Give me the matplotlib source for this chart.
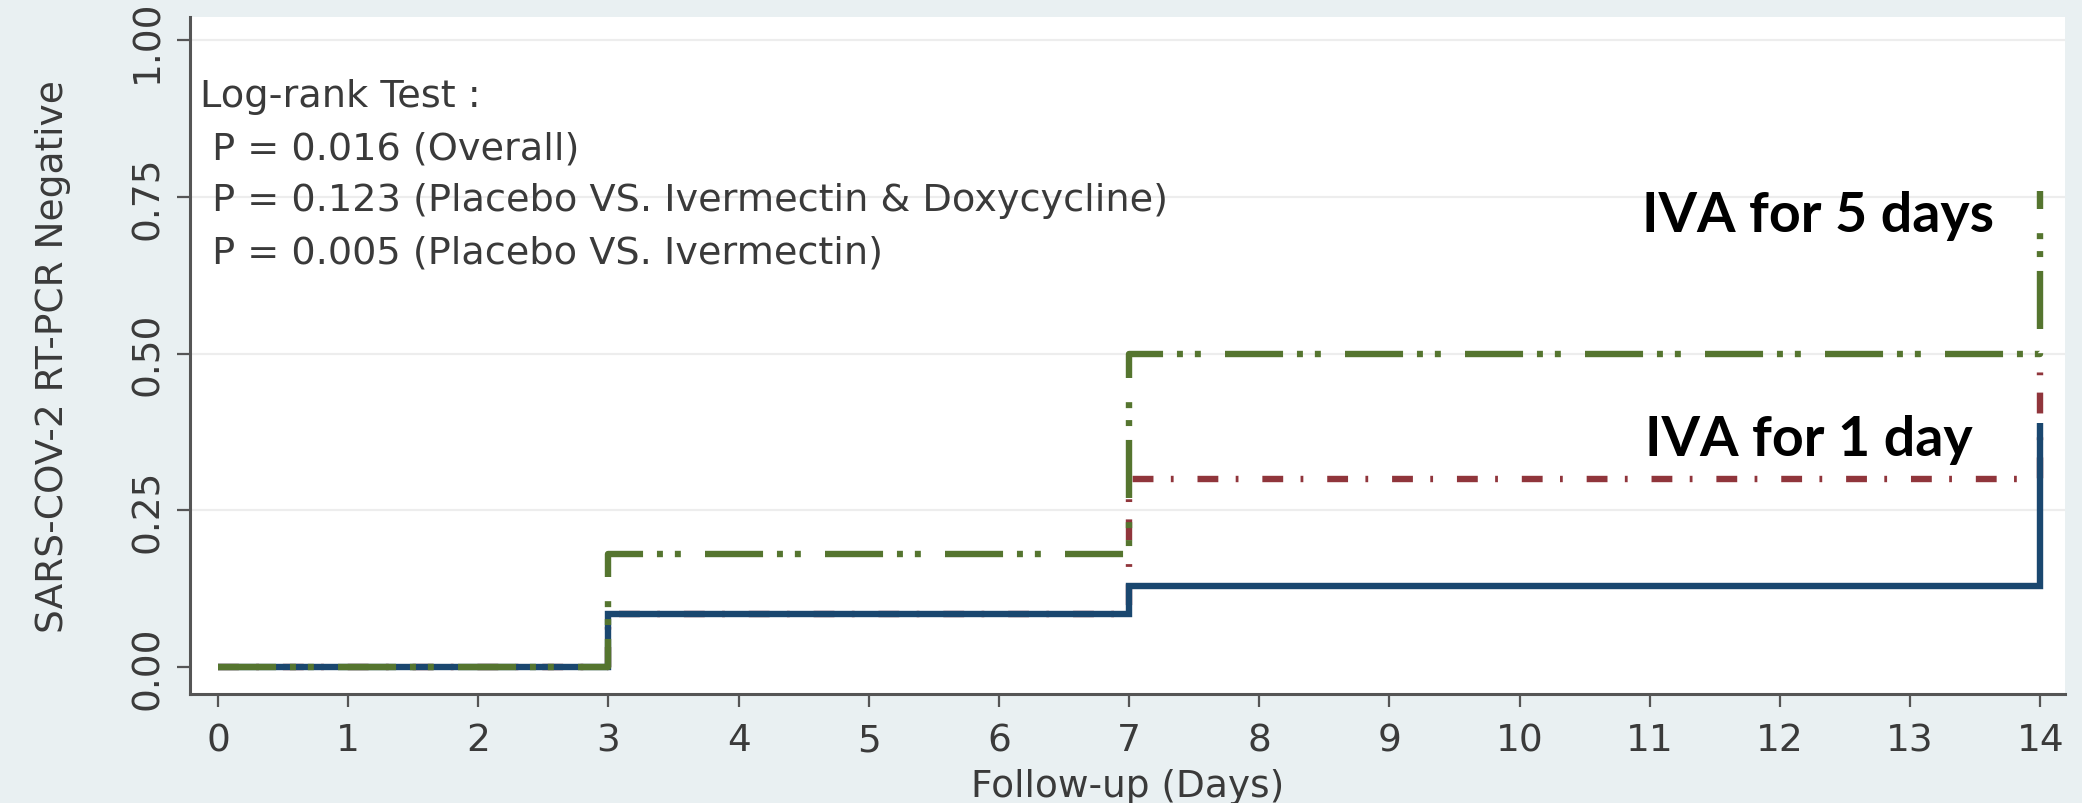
import matplotlib
matplotlib.use("Agg")
import matplotlib.pyplot as plt

# ---- data ----
days = [0, 3, 7, 14]
placebo = [0.0, 0.085, 0.13, 0.39]        # navy solid
iva_1day = [0.0, 0.085, 0.30, 0.47]       # maroon dashed
iva_5days = [0.0, 0.18, 0.50, 0.76]       # green dash-dot-dot
x_ticks = list(range(0, 15))
y_ticks = [0.0, 0.25, 0.50, 0.75, 1.00]
y_ticklabels = ["0.00", "0.25", "0.50", "0.75", "1.00"]
logrank_lines = [
    "Log-rank Test :",
    " P = 0.016 (Overall)",
    " P = 0.123 (Placebo VS. Ivermectin & Doxycycline)",
    " P = 0.005 (Placebo VS. Ivermectin)",
]
label_5days = "IVA for 5 days"
label_1day = "IVA for 1 day"

plt.rcParams['lines.scale_dashes'] = False
plt.rcParams['font.family'] = ['DejaVu Sans']

BG = '#e9f0f2'
TXT = '#3a3a3a'
NAVY = '#1a476f'
MAROON = '#90353b'
GREEN = '#55752f'

fig = plt.figure(figsize=(20.82, 8.04), dpi=100, facecolor=BG)
ax = fig.add_axes([190/2082, 109/804, (2065-190)/2082, (695-18)/804])
ax.set_facecolor('white')

ax.set_xlim(-0.215, 14.19)
ax.set_ylim(-0.043, 1.037)

# grid
for yt in y_ticks[1:]:
    ax.axhline(yt, color='#ededed', lw=1.6, zorder=0)

lw = 4.6
ax.plot(days, iva_1day, drawstyle='steps-post', color=MAROON, lw=lw,
        dashes=(15.0, 12.5, 2.0, 17.2), zorder=2, solid_capstyle='butt')
ax.plot(days, placebo, drawstyle='steps-post', color=NAVY, lw=lw, zorder=3,
        solid_capstyle='butt', solid_joinstyle='miter')
ax.plot(days, iva_5days, drawstyle='steps-post', color=GREEN, lw=lw,
        dashes=(41.8, 10.0, 4.3, 8.6, 4.3, 17.4), zorder=4)

# spines
for s in ['top', 'right']:
    ax.spines[s].set_visible(False)
for s in ['left', 'bottom']:
    ax.spines[s].set_color('#555555')
    ax.spines[s].set_linewidth(2.2)

ax.set_xticks(x_ticks)
ax.set_xticklabels([str(t) for t in x_ticks])
ax.set_yticks(y_ticks)
ax.set_yticklabels(y_ticklabels, rotation=90, va='center')
ax.tick_params(axis='both', length=9.5, width=1.6, color='#555555',
               labelsize=27, labelcolor=TXT)
ax.tick_params(axis='x', pad=11)
ax.tick_params(axis='y', pad=8)

ax.set_xlabel("Follow-up (Days)", fontsize=27, color=TXT, labelpad=7)
ax.set_ylabel("SARS-COV-2 RT-PCR Negative", fontsize=27, color=TXT, labelpad=42)

# annotation text
ybase = [0.895, 0.812, 0.729, 0.646]
for txt, yb in zip(logrank_lines, ybase):
    ax.text(-0.14, yb, txt, fontsize=27.5, color=TXT, va='baseline', ha='left')

ax.text(10.94, 0.695, label_5days, fontsize=40, fontweight='bold',
        family='Lato', color='black', va='baseline', ha='left')
ax.text(10.96, 0.338, label_1day, fontsize=40, fontweight='bold',
        family='Lato', color='black', va='baseline', ha='left')

fig.savefig("out.png", dpi=100, facecolor=BG)
